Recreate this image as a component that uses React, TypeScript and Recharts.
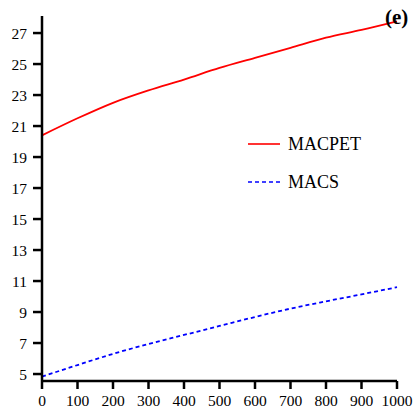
import { LineChart, Line, XAxis, YAxis, Legend } from "recharts";

// x positions (sample count)
const xValues = [0, 100, 200, 300, 400, 500, 600, 700, 800, 900, 1000];
const macpet = [20.4, 21.5, 22.5, 23.3, 24.0, 24.75, 25.4, 26.05, 26.7, 27.2, 27.75];
const macs = [4.83, 5.58, 6.3, 6.94, 7.52, 8.1, 8.68, 9.22, 9.69, 10.14, 10.6];

const xTicks = [0, 100, 200, 300, 400, 500, 600, 700, 800, 900, 1000];
const yTicks = [5, 7, 9, 11, 13, 15, 17, 19, 21, 23, 25, 27];

const data = xValues.map((x, i) => ({ x, macpet: macpet[i], macs: macs[i] }));

const font = "Liberation Serif, Times New Roman, serif";

function LegendBox() {
  const items = [
    { label: "MACPET", color: "#ff0000", dash: undefined },
    { label: "MACS", color: "#0000ff", dash: "4 3" },
  ];
  return (
    <div style={{ fontFamily: font, fontSize: 18, color: "#000" }}>
      {items.map((it) => (
        <div
          key={it.label}
          style={{ display: "flex", alignItems: "center", height: 38 }}
        >
          <svg width={32} height={4} style={{ marginRight: 8 }}>
            <line
              x1={0}
              y1={2}
              x2={32}
              y2={2}
              stroke={it.color}
              strokeWidth={1.6}
              strokeDasharray={it.dash}
            />
          </svg>
          <span>{it.label}</span>
        </div>
      ))}
    </div>
  );
}

export default function App() {
  const tickStyle = { fill: "#000", fontFamily: font, fontSize: 15.5 };
  return (
    <div style={{ position: "absolute", left: 0, top: 0, width: 415, height: 411, background: "#fff", fontFamily: font }}>
      <LineChart
        width={415}
        height={411}
        data={data}
        margin={{ top: 16, right: 18, left: 0, bottom: 0 }}
        style={{ fontFamily: font }}
      >
        <XAxis
          dataKey="x"
          type="number"
          domain={[0, 1000]}
          ticks={xTicks}
          height={30}
          stroke="#000"
          strokeWidth={2.5}
          tickSize={8}
          tickMargin={6}
          tick={tickStyle}
          interval={0}
        />
        <YAxis
          type="number"
          domain={[4.55, 28.1]}
          ticks={yTicks}
          width={42}
          stroke="#000"
          strokeWidth={2.5}
          tickSize={9}
          tickMargin={6}
          tick={tickStyle}
          interval={0}
          allowDataOverflow
        />
        <Legend
          layout="vertical"
          align="center"
          verticalAlign="middle"
          content={() => <LegendBox />}
          wrapperStyle={{ position: "absolute", left: 248, top: 125, width: 150 }}
        />
        <Line
          dataKey="macpet"
          stroke="#ff0000"
          strokeWidth={1.8}
          dot={false}
          type="monotone"
          isAnimationActive={false}
        />
        <Line
          dataKey="macs"
          stroke="#0000ff"
          strokeWidth={1.8}
          strokeDasharray="4 3"
          dot={false}
          type="monotone"
          isAnimationActive={false}
        />
      </LineChart>
      <div
        style={{
          position: "absolute",
          left: 385,
          top: 5,
          fontFamily: font,
          fontWeight: "bold",
          fontSize: 21,
          color: "#000",
        }}
      >
        (e)
      </div>
    </div>
  );
}
